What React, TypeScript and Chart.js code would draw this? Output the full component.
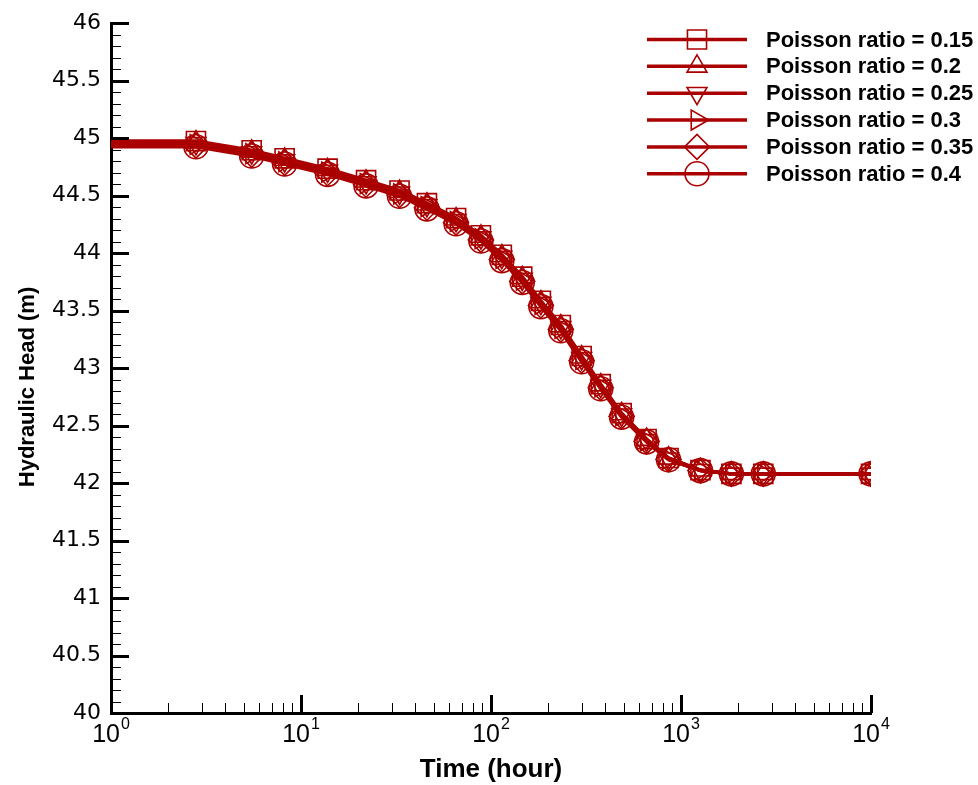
import React, { useEffect, useRef } from 'react';
import { Chart, registerables } from 'chart.js';
import { drawPoint } from 'chart.js/helpers';

Chart.register(...registerables);

// ---- data ----
const times = [1, 2.8, 5.5, 8.2, 13.8, 22, 33, 46, 65.5, 88.5, 114, 146, 183, 233, 300, 378, 487, 659, 860, 1266, 1842, 2711, 10000];

const head015 = [44.975, 44.975, 44.895, 44.825, 44.735, 44.635, 44.545, 44.435, 44.305, 44.155, 43.985, 43.795, 43.585, 43.375, 43.105, 42.860, 42.608, 42.383, 42.218, 42.113, 42.08, 42.08, 42.08];
const head020 = [44.965, 44.965, 44.885, 44.815, 44.725, 44.625, 44.535, 44.425, 44.295, 44.145, 43.975, 43.785, 43.575, 43.365, 43.095, 42.852, 42.601, 42.378, 42.215, 42.112, 42.08, 42.08, 42.08];
const head025 = [44.955, 44.955, 44.875, 44.805, 44.715, 44.615, 44.525, 44.415, 44.285, 44.135, 43.965, 43.775, 43.565, 43.355, 43.085, 42.844, 42.594, 42.373, 42.212, 42.111, 42.08, 42.08, 42.08];
const head030 = [44.945, 44.945, 44.865, 44.795, 44.705, 44.605, 44.515, 44.405, 44.275, 44.125, 43.955, 43.765, 43.555, 43.345, 43.075, 42.836, 42.587, 42.368, 42.209, 42.110, 42.08, 42.08, 42.08];
const head035 = [44.935, 44.935, 44.855, 44.785, 44.695, 44.595, 44.505, 44.395, 44.265, 44.115, 43.945, 43.755, 43.545, 43.335, 43.065, 42.828, 42.580, 42.363, 42.206, 42.109, 42.08, 42.08, 42.08];
const head040 = [44.925, 44.925, 44.845, 44.775, 44.685, 44.585, 44.495, 44.385, 44.255, 44.105, 43.935, 43.745, 43.535, 43.325, 43.055, 42.820, 42.573, 42.358, 42.203, 42.108, 42.08, 42.08, 42.08];

const seriesLabels = [
  'Poisson ratio = 0.15',
  'Poisson ratio = 0.2',
  'Poisson ratio = 0.25',
  'Poisson ratio = 0.3',
  'Poisson ratio = 0.35',
  'Poisson ratio = 0.4',
];
const seriesValues = [head015, head020, head025, head030, head035, head040];

const xTickValues = [1, 10, 100, 1000, 10000];
const xTickBase = '10';
const xTickExponents = ['0', '1', '2', '3', '4'];
const yTickValues = [40, 40.5, 41, 41.5, 42, 42.5, 43, 43.5, 44, 44.5, 45, 45.5, 46];
const yTickLabels = ['40', '40.5', '41', '41.5', '42', '42.5', '43', '43.5', '44', '44.5', '45', '45.5', '46'];
const yMin = 40;
const yMax = 46;
const yStep = 0.5;
const yMinorStep = 0.1;
const xTitle = 'Time (hour)';
const yTitle = 'Hydraulic Head (m)';

// ---- styles ----
const RED = 'rgb(170,0,0)';
const markers = [
  { pointStyle: 'rect', rotation: 0, radius: 13.5 },
  { pointStyle: 'triangle', rotation: 0, radius: 11.5 },
  { pointStyle: 'triangle', rotation: 180, radius: 11.5 },
  { pointStyle: 'triangle', rotation: 90, radius: 11.5 },
  { pointStyle: 'rectRot', rotation: 0, radius: 12.5 },
  { pointStyle: 'circle', rotation: 0, radius: 12 },
];

const decorPlugin = {
  id: 'decor',
  afterDraw(chart: any) {
    const ctx = chart.ctx;
    const xs = chart.scales.x;
    const ys = chart.scales.y;
    const { left, bottom } = chart.chartArea;
    ctx.save();
    ctx.strokeStyle = '#000';
    ctx.lineCap = 'butt';
    // y ticks (inward)
    const nY = Math.round((yMax - yMin) / yMinorStep);
    const perMajor = Math.round(yStep / yMinorStep);
    for (let i = 0; i <= nY; i++) {
      const v = yMin + i * yMinorStep;
      const py = Math.round(ys.getPixelForValue(v)) + 0.5;
      const major = i % perMajor === 0;
      ctx.lineWidth = major ? 3 : 1;
      ctx.beginPath();
      ctx.moveTo(left, py);
      ctx.lineTo(left + (major ? 18 : 10), py);
      ctx.stroke();
    }
    // x ticks (inward, log)
    for (let d = 0; d < xTickValues.length; d++) {
      const base = xTickValues[d];
      const maxM = d === xTickValues.length - 1 ? 1 : 9;
      for (let m = 1; m <= maxM; m++) {
        const px = Math.round(xs.getPixelForValue(base * m)) + 0.5;
        const major = m === 1;
        ctx.lineWidth = major ? 3 : 1;
        ctx.beginPath();
        ctx.moveTo(px, bottom);
        ctx.lineTo(px, bottom - (major ? 18 : 10));
        ctx.stroke();
      }
    }
    // x tick labels: 10 with superscript exponent
    ctx.fillStyle = '#000';
    ctx.textBaseline = 'alphabetic';
    ctx.textAlign = 'left';
    const baseFont = '25px "Liberation Sans", Arial, sans-serif';
    const expFont = '16px "Liberation Sans", Arial, sans-serif';
    for (let i = 0; i < xTickValues.length; i++) {
      const px = xs.getPixelForValue(xTickValues[i]);
      ctx.font = baseFont;
      const wb = ctx.measureText(xTickBase).width;
      ctx.font = expFont;
      const we = ctx.measureText(xTickExponents[i]).width;
      const x0 = px - (wb + we + 1) / 2;
      ctx.font = baseFont;
      ctx.fillText(xTickBase, x0, 742);
      ctx.font = expFont;
      ctx.fillText(xTickExponents[i], x0 + wb + 1, 729);
    }

    // axis titles
    ctx.fillStyle = '#000';
    ctx.textAlign = 'center';
    ctx.textBaseline = 'middle';
    ctx.font = 'bold 26px "Liberation Sans", Arial, sans-serif';
    ctx.fillText(xTitle, (chart.chartArea.left + chart.chartArea.right) / 2, 770);
    ctx.save();
    ctx.font = 'bold 22px "Liberation Sans", Arial, sans-serif';
    ctx.translate(28, 387);
    ctx.rotate(-Math.PI / 2);
    ctx.fillText(yTitle, 0, 0);
    ctx.restore();

    // legend
    const lx0 = 647, lx1 = 747, mx = 697, tx = 766, ly0 = 39.5, dy = 26.85;
    ctx.font = 'bold 22px "Liberation Sans", Arial, sans-serif';
    ctx.textAlign = 'left';
    for (let i = 0; i < seriesLabels.length; i++) {
      const yy = ly0 + i * dy;
      ctx.strokeStyle = RED;
      ctx.lineWidth = 3.5;
      ctx.beginPath();
      ctx.moveTo(lx0, yy);
      ctx.lineTo(lx1, yy);
      ctx.stroke();
      ctx.fillStyle = 'rgba(0,0,0,0)';
      ctx.strokeStyle = RED;
      ctx.lineWidth = 1.6;
      drawPoint(ctx, { pointStyle: markers[i].pointStyle, rotation: markers[i].rotation, radius: markers[i].radius, borderWidth: 1.6 } as any, mx, yy);
      ctx.fillStyle = '#000';
      ctx.fillText(seriesLabels[i], tx, yy + 1);
    }
    ctx.restore();
  },
};

export default function App() {
  const ref = useRef<HTMLCanvasElement | null>(null);
  useEffect(() => {
    const canvas = ref.current;
    if (!canvas) return;
    const datasets = seriesValues.map((vals, i) => ({
      label: seriesLabels[i],
      data: times.map((t, j) => ({ x: t, y: vals[j] })),
      borderColor: RED,
      borderWidth: 3.5,
      backgroundColor: 'rgba(0,0,0,0)',
      pointStyle: markers[i].pointStyle as any,
      pointRotation: markers[i].rotation,
      pointRadius: (c: any) => (c.dataIndex === 0 ? 0 : markers[i].radius),
      pointBorderColor: RED,
      pointBackgroundColor: 'rgba(0,0,0,0)',
      pointBorderWidth: 1.6,
      tension: 0,
      fill: false,
    }));
    const chart = new Chart(canvas, {
      type: 'line',
      data: { datasets },
      plugins: [decorPlugin],
      options: {
        animation: false,
        responsive: false,
        devicePixelRatio: 1,
        layout: { padding: { top: 21, right: 107, left: 0, bottom: 0 } },
        plugins: { legend: { display: false }, tooltip: { enabled: false }, title: { display: false } },
        scales: {
          x: {
            type: 'logarithmic',
            min: xTickValues[0],
            max: xTickValues[xTickValues.length - 1],
            grid: { display: false, drawTicks: false },
            border: { display: true, color: '#000', width: 3 },
            afterBuildTicks: (scale: any) => {
              scale.ticks = xTickValues.map((v) => ({ value: v }));
            },
            afterFit: (scale: any) => {
              scale.height = 72;
            },
            ticks: { display: false },
          },
          y: {
            type: 'linear',
            min: yMin,
            max: yMax,
            grid: { display: false, drawTicks: false },
            border: { display: true, color: '#000', width: 3 },
            afterBuildTicks: (scale: any) => {
              scale.ticks = yTickValues.map((v) => ({ value: v }));
            },
            afterFit: (scale: any) => {
              scale.width = 111;
            },
            ticks: {
              autoSkip: false,
              padding: 10,
              color: '#000',
              font: { family: '"DejaVu Sans"', size: 22 },
              callback: (v: any) => {
                const idx = yTickValues.indexOf(Number(v));
                return idx >= 0 ? yTickLabels[idx] : '';
              },
            },
          },
        },
      },
    });
    return () => chart.destroy();
  }, []);
  return (
    <div style={{ position: 'fixed', left: 0, top: 0, width: 978, height: 785, background: '#fff' }}>
      <canvas ref={ref} width={978} height={785} style={{ display: 'block', width: 978, height: 785 }} />
    </div>
  );
}
